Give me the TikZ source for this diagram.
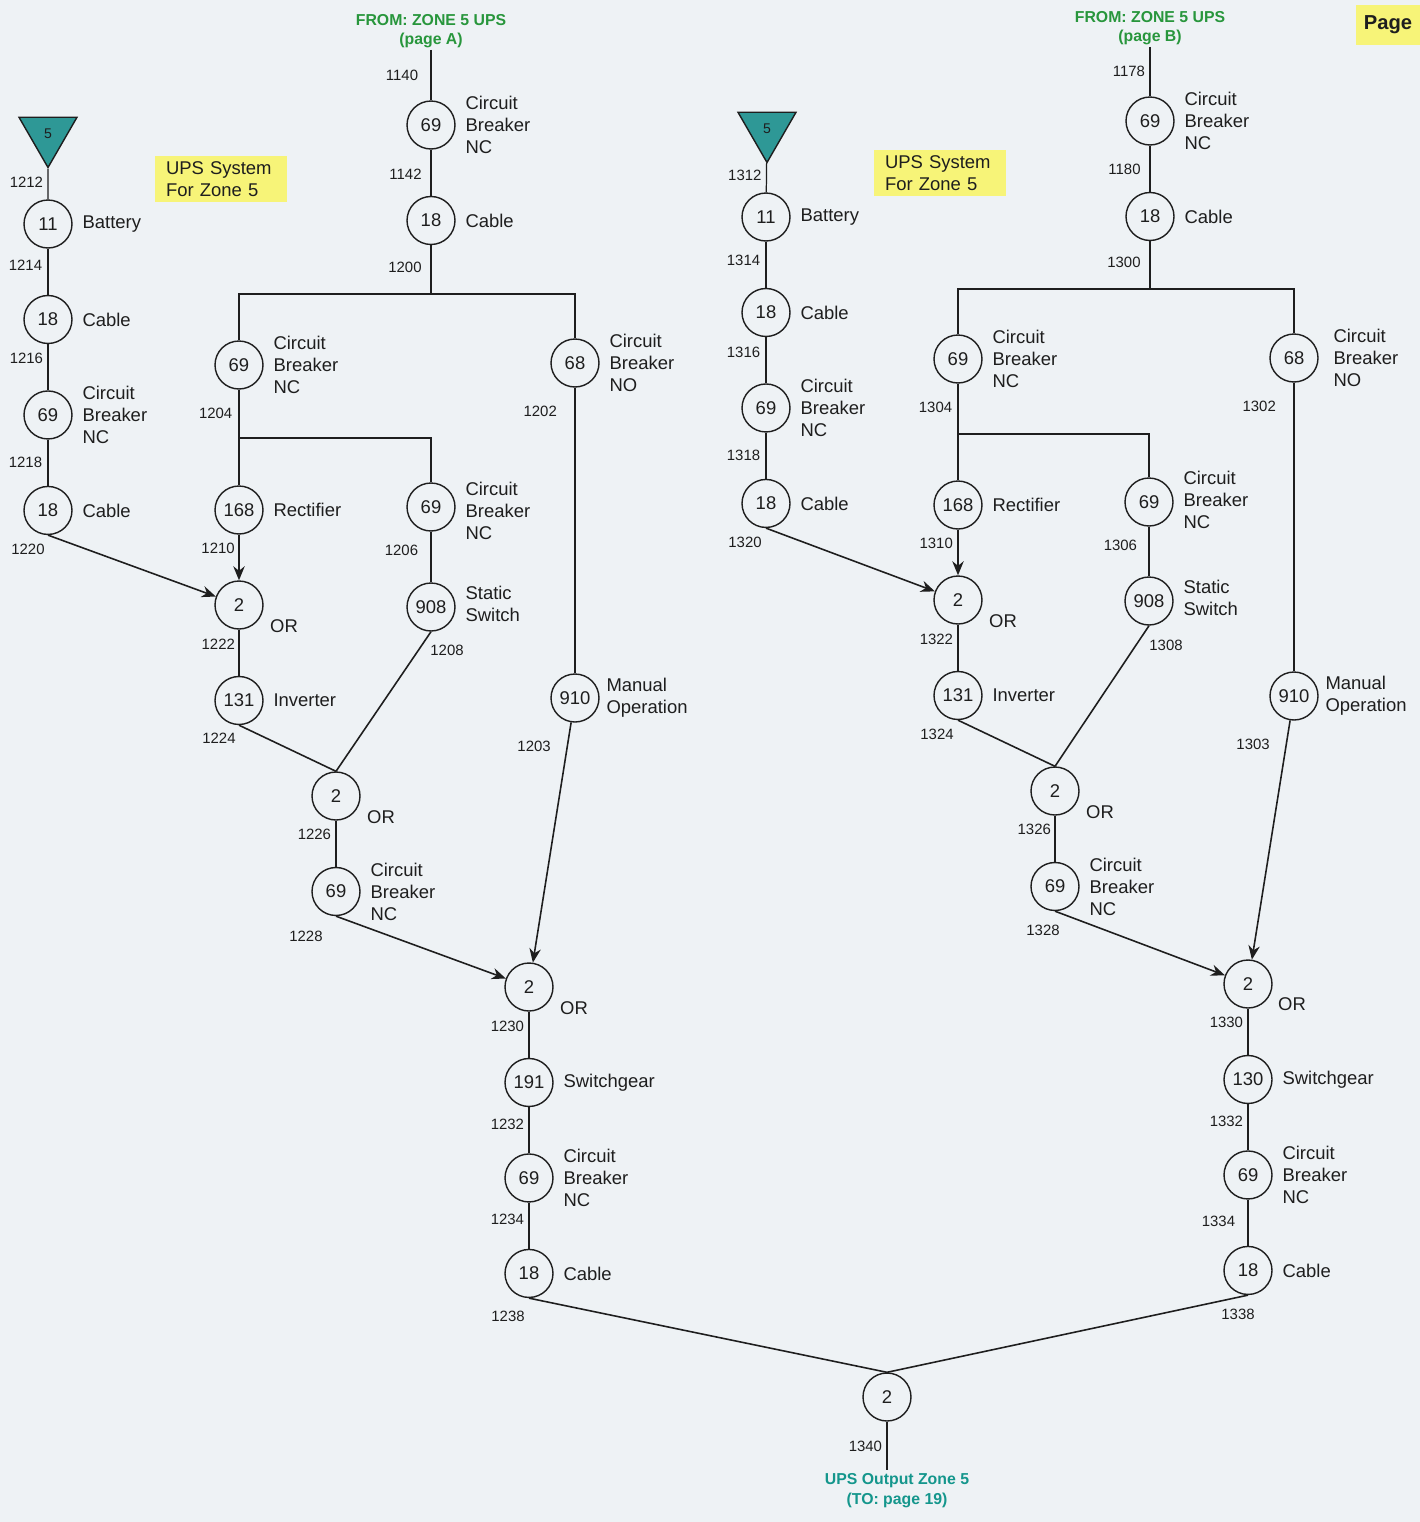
\documentclass[tikz,border=0pt]{standalone}
\usepackage{fontspec}
\setmainfont{Liberation Sans}
\usepackage{tikz}
\usetikzlibrary{shapes.geometric, arrows.meta, positioning}

\definecolor{ink}{RGB}{30,30,30}
\definecolor{paper}{RGB}{238,242,245}
\definecolor{zonefill}{RGB}{46,152,150}
\definecolor{notefill}{RGB}{247,244,120}
\definecolor{titlegreen}{RGB}{40,150,60}
\definecolor{outteal}{RGB}{20,150,140}

\tikzstyle{unit} = [circle, minimum size=0.96cm, inner sep=0pt, draw=ink, line width=0.8pt, text=ink, font=\fontsize{10.5}{12.5}\selectfont]
\tikzstyle{desc} = [align=left, text=ink, inner sep=2pt, font=\fontsize{10.5}{12.5}\selectfont]
\tikzstyle{num} = [text=ink, inner sep=1pt, font=\fontsize{8.5}{10}\selectfont]
\tikzstyle{zone} = [regular polygon, regular polygon sides=3, shape border rotate=180, minimum size=1.34cm, inner sep=0pt, draw=ink, line width=0.8pt, fill=zonefill, text=ink, font=\fontsize{8}{9}\selectfont]
\tikzstyle{note} = [fill=notefill, text=ink, align=left, text width=2.2cm, inner xsep=0.22cm, minimum height=0.84cm, font=\fontsize{10.5}{12.5}\selectfont]
\tikzstyle{title} = [align=center, text=titlegreen, inner sep=1pt, font=\bfseries\fontsize{9}{11}\selectfont]
\tikzstyle{line} = [draw=ink, line width=0.7pt]
\tikzstyle{slant} = [draw=ink, line width=0.9pt]
\tikzstyle{bus} = [draw=ink, line width=1pt]
\tikzset{
  arrow/.style={draw=ink, line width=0.9pt, -{Stealth[length=8pt, width=6.5pt]}},
  pagebox/.style={
    fill=notefill,
    text=ink,
    minimum width=1.3cm,
    minimum height=0.8cm,
    font=\bfseries\fontsize{11.5}{13}\selectfont
    },
}

\begin{document}
\begin{tikzpicture}[x=0.02cm, y=-0.02cm, node distance=1.91cm]
\fill [paper] (0,0) rectangle (1420,1522);
\useasboundingbox (0,0) rectangle (1420,1522);

% page A side
\node (zone1) [zone] at (48,134) {5};
\node (bat1) [unit] at (48,224) {11};
\node (cab1) [unit, below of=bat1] {18};
\node (cb1) [unit, below of=cab1] {69};
\node (cab2) [unit, below of=cb1] {18};
\node (bat1t) [desc, right=1.2mm of bat1] {Battery};
\node (cab1t) [desc, right=1.2mm of cab1] {Cable};
\node (cb1t) [desc, right=1.2mm of cb1] {Circuit\\Breaker\\NC};
\node (cab2t) [desc, right=1.2mm of cab2] {Cable};
\node (ups1) [note] at (221,179) {UPS System\\For Zone 5};

\node (fromA) [title] at (431,31) {FROM: ZONE 5 UPS\\(page A)};
\node (cb2) [unit] at (431,125) {69};
\node (cab3) [unit, below of=cb2] {18};
\coordinate (bus1) at (431,294);
\node (cb3) [unit] at (239,365) {69};
\node (cb4) [unit] at (575,363) {68};
\coordinate (jct1) at (239,438);
\node (rect1) [unit] at (239,510) {168};
\node (cb5) [unit] at (431,507) {69};
\node (sw1) [unit] at (431,607) {908};
\node (or1) [unit] at (239,605) {2};
\node (inv1) [unit, below of=or1] {131};
\node (or2) [unit] at (336,796) {2};
\node (cb6) [unit, below of=or2] {69};
\node (man1) [unit] at (575,698) {910};
\node (or3) [unit] at (529,987) {2};
\node (swg1) [unit, below of=or3] {191};
\node (cb7) [unit, below of=swg1] {69};
\node (cab4) [unit, below of=cb7] {18};

\node (cb2t) [desc, right=1.2mm of cb2] {Circuit\\Breaker\\NC};
\node (cab3t) [desc, right=1.2mm of cab3] {Cable};
\node (cb3t) [desc, right=1.2mm of cb3] {Circuit\\Breaker\\NC};
\node (cb4t) [desc, right=1.2mm of cb4] {Circuit\\Breaker\\NO};
\node (rect1t) [desc, right=1.2mm of rect1] {Rectifier};
\node (cb5t) [desc, right=1.2mm of cb5, yshift=-2pt] {Circuit\\Breaker\\NC};
\node (sw1t) [desc, right=1.2mm of sw1, yshift=2pt] {Static\\Switch};
\node (inv1t) [desc, right=1.2mm of inv1] {Inverter};
\node (cb6t) [desc, right=1.2mm of cb6] {Circuit\\Breaker\\NC};
\node (man1t) [desc, right=0.6mm of man1] {Manual\\Operation};
\node (swg1t) [desc, right=1.2mm of swg1] {Switchgear};
\node (cb7t) [desc, right=1.2mm of cb7] {Circuit\\Breaker\\NC};
\node (cab4t) [desc, right=1.2mm of cab4] {Cable};
\node (or1t) [desc] at ([shift={(45,21)}]or1) {OR};
\node (or2t) [desc] at ([shift={(45,21)}]or2) {OR};
\node (or3t) [desc] at ([shift={(45,21)}]or3) {OR};

\draw [line] (zone1) -- node[num, left=1.5pt, pos=0.44] (n1212) {1212} (bat1);
\draw [line] (bat1) -- node[num, left=2pt, pos=0.35] (n1214) {1214} (cab1);
\draw [line] (cab1) -- node[num, left=1.5pt, pos=0.3] (n1216) {1216} (cb1);
\draw [line] (cb1) -- node[num, left=2pt] (n1218) {1218} (cab2);
\draw [arrow] (cab2.south) -- (or1);
\node (n1220) [num] at ([shift={(-20,14)}]cab2.south) {1220};

\draw [line] (fromA) -- node[num, left=6pt] (n1140) {1140} (cb2);
\draw [line] (cb2) -- node[num, left=4pt, pos=0.54] (n1142) {1142} (cab3);
\draw [line] (cab3) -- node[num, left=4pt, pos=0.45] (n1200) {1200} (bus1);
\draw [bus] (bus1) -| (cb3);
\draw [bus] (bus1) -| (cb4);
\draw [line] (cb3) -- node[num, left=2.5pt] (n1204) {1204} (jct1) -- (rect1);
\draw [line] (jct1) -| (cb5);
\draw [arrow] (rect1) -- node[num, left=1pt, pos=0.3] (n1210) {1210} (or1);
\draw [line] (cb5) -- node[num, left=6pt, pos=0.37] (n1206) {1206} (sw1);
\draw [line] (or1) -- node[num, left=1pt, pos=0.31] (n1222) {1222} (inv1);
\draw [slant] (inv1.south) -- (or2.north);
\node (n1224) [num] at ([shift={(-20,13)}]inv1.south) {1224};
\draw [slant] (sw1.south) -- (or2.north);
\node (n1208) [num] at ([shift={(16,19)}]sw1.south) {1208};
\draw [line] (or2) -- node[num, left=1.5pt, pos=0.3] (n1226) {1226} (cb6);
\draw [arrow] (cb6.south) -- (or3);
\node (n1228) [num] at ([shift={(-30,20)}]cb6.south) {1228};
\draw [line] (cb4) -- node[num, left=9pt, pos=0.084] (n1202) {1202} (man1);
\draw [arrow] (man1) -- node[num, left=8pt, pos=0.1] (n1203) {1203} (or3);
\draw [line] (or3) -- node[num, left=1.5pt, pos=0.31] (n1230) {1230} (swg1);
\draw [line] (swg1) -- node[num, left=1.5pt, pos=0.37] (n1232) {1232} (cb7);
\draw [line] (cb7) -- node[num, left=1.5pt, pos=0.36] (n1234) {1234} (cab4);

% page B side
\node (zone2) [zone] at (767,129) {5};
\node (bat2) [unit] at (766,217) {11};
\node (cab5) [unit, below of=bat2] {18};
\node (cb8) [unit, below of=cab5] {69};
\node (cab6) [unit, below of=cb8] {18};
\node (bat2t) [desc, right=1.2mm of bat2] {Battery};
\node (cab5t) [desc, right=1.2mm of cab5] {Cable};
\node (cb8t) [desc, right=1.2mm of cb8] {Circuit\\Breaker\\NC};
\node (cab6t) [desc, right=1.2mm of cab6] {Cable};
\node (ups2) [note] at (940,173) {UPS System\\For Zone 5};

\node (fromB) [title] at (1150,28) {FROM: ZONE 5 UPS\\(page B)};
\node (cb9) [unit] at (1150,121) {69};
\node (cab7) [unit, below of=cb9] {18};
\coordinate (bus2) at (1150,289);
\node (cb10) [unit] at (958,359) {69};
\node (cb11) [unit] at (1294,358) {68};
\coordinate (jct2) at (958,434);
\node (rect2) [unit] at (958,505) {168};
\node (cb12) [unit] at (1149,502) {69};
\node (sw2) [unit] at (1149,601) {908};
\node (or4) [unit] at (958,600) {2};
\node (inv2) [unit, below of=or4] {131};
\node (or5) [unit] at (1055,791) {2};
\node (cb13) [unit, below of=or5] {69};
\node (man2) [unit] at (1294,696) {910};
\node (or6) [unit] at (1248,984) {2};
\node (swg2) [unit, below of=or6] {130};
\node (cb14) [unit, below of=swg2] {69};
\node (cab8) [unit, below of=cb14] {18};

\node (cb9t) [desc, right=1.2mm of cb9] {Circuit\\Breaker\\NC};
\node (cab7t) [desc, right=1.2mm of cab7] {Cable};
\node (cb10t) [desc, right=1.2mm of cb10] {Circuit\\Breaker\\NC};
\node (cb11t) [desc, right=2.2mm of cb11] {Circuit\\Breaker\\NO};
\node (rect2t) [desc, right=1.2mm of rect2] {Rectifier};
\node (cb12t) [desc, right=1.2mm of cb12, yshift=1pt] {Circuit\\Breaker\\NC};
\node (sw2t) [desc, right=1.2mm of sw2, yshift=2pt] {Static\\Switch};
\node (inv2t) [desc, right=1.2mm of inv2] {Inverter};
\node (cb13t) [desc, right=1.2mm of cb13] {Circuit\\Breaker\\NC};
\node (man2t) [desc, right=0.6mm of man2] {Manual\\Operation};
\node (swg2t) [desc, right=1.2mm of swg2] {Switchgear};
\node (cb14t) [desc, right=1.2mm of cb14] {Circuit\\Breaker\\NC};
\node (cab8t) [desc, right=1.2mm of cab8] {Cable};
\node (or4t) [desc] at ([shift={(45,21)}]or4) {OR};
\node (or5t) [desc] at ([shift={(45,21)}]or5) {OR};
\node (or6t) [desc] at ([shift={(44,20)}]or6) {OR};

\draw [line] (zone2) -- node[num, left=1.5pt, pos=0.43] (n1312) {1312} (bat2);
\draw [line] (bat2) -- node[num, left=2pt, pos=0.4] (n1314) {1314} (cab5);
\draw [line] (cab5) -- node[num, left=2pt, pos=0.33] (n1316) {1316} (cb8);
\draw [line] (cb8) -- node[num, left=2pt] (n1318) {1318} (cab6);
\draw [arrow] (cab6.south) -- (or4);
\node (n1320) [num] at ([shift={(-21,14)}]cab6.south) {1320};

\draw [line] (fromB) -- node[num, left=1.5pt] (n1178) {1178} (cb9);
\draw [line] (cb9) -- node[num, left=4pt, pos=0.52] (n1180) {1180} (cab7);
\draw [line] (cab7) -- node[num, left=4pt, pos=0.44] (n1300) {1300} (bus2);
\draw [bus] (bus2) -| (cb10);
\draw [bus] (bus2) -| (cb11);
\draw [line] (cb10) -- node[num, left=2pt, pos=0.47] (n1304) {1304} (jct2) -- (rect2);
\draw [line] (jct2) -| (cb12);
\draw [arrow] (rect2) -- node[num, left=1.5pt, pos=0.3] (n1310) {1310} (or4);
\draw [line] (cb12) -- node[num, left=5.5pt, pos=0.37] (n1306) {1306} (sw2);
\draw [line] (or4) -- node[num, left=1.5pt, pos=0.32] (n1322) {1322} (inv2);
\draw [slant] (inv2.south) -- (or5.north);
\node (n1324) [num] at ([shift={(-21,14)}]inv2.south) {1324};
\draw [slant] (sw2.south) -- (or5.north);
\node (n1308) [num] at ([shift={(17,20)}]sw2.south) {1308};
\draw [line] (or5) -- node[num, left=1pt, pos=0.3] (n1326) {1326} (cb13);
\draw [arrow] (cb13.south) -- (or6);
\node (n1328) [num] at ([shift={(-12,19)}]cb13.south) {1328};
\draw [line] (cb11) -- node[num, left=9pt, pos=0.083] (n1302) {1302} (man2);
\draw [arrow] (man2) -- node[num, left=8pt, pos=0.1] (n1303) {1303} (or6);
\draw [line] (or6) -- node[num, left=1.5pt, pos=0.3] (n1330) {1330} (swg2);
\draw [line] (swg2) -- node[num, left=1.5pt, pos=0.37] (n1332) {1332} (cb14);
\draw [line] (cb14) -- node[num, left=6pt, pos=0.47] (n1334) {1334} (cab8);

% output
\node (orF) [unit] at (887,1397) {2};
\draw [slant] (cab4.south) -- (orF.north);
\node (n1238) [num] at ([shift={(-21,18)}]cab4.south) {1238};
\draw [slant] (cab8.south) -- (orF.north);
\node (n1338) [num] at ([shift={(-10,19)}]cab8.south) {1338};
\coordinate (out1) at (887,1470);
\draw [line] (orF) -- node[num, left=1.5pt] (n1340) {1340} (out1);
\node (outtxt) [title, text=outteal, below=1pt of out1, xshift=0.2cm] {UPS Output Zone 5\\(TO: page 19)};

\node (page) [pagebox] at (1388,25) {Page};
\end{tikzpicture}
\end{document}
